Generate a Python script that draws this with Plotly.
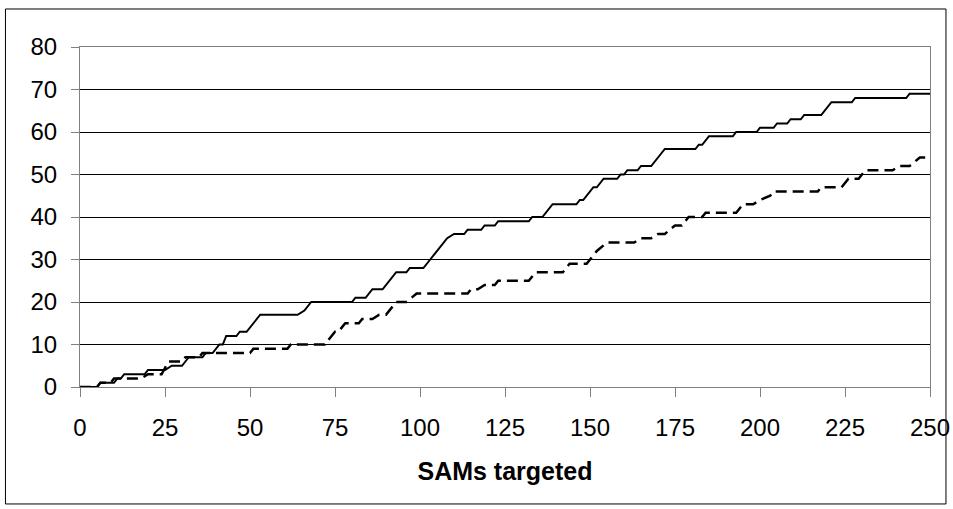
import plotly.graph_objects as go

# Solid series: corner points of the step curve (SAMs targeted, count)
solid_x = [0, 5, 6, 10, 11, 12, 13, 19, 20, 25, 27, 30, 31, 32, 36, 37, 39, 40, 41, 42,
           43, 46, 47, 49, 51, 53, 64, 66, 68, 80, 81, 84, 86, 89, 93, 96, 97, 101, 103,
           106, 108, 110, 113, 114, 118, 119, 122, 123, 132, 133, 136, 139, 146, 147, 148,
           151, 152, 154, 158, 159, 160, 161, 164, 165, 168, 171, 172, 181, 182, 183, 185,
           192, 193, 199, 200, 204, 205, 208, 209, 212, 213, 218, 221, 227, 228, 243, 244, 250]
solid_y = [0, 0, 1, 1, 2, 2, 3, 3, 4, 4, 5, 5, 6, 7, 7, 8, 8, 9, 10, 10,
           12, 12, 13, 13, 15, 17, 17, 18, 20, 20, 21, 21, 23, 23, 27, 27, 28, 28, 30,
           33, 35, 36, 36, 37, 37, 38, 38, 39, 39, 40, 40, 43, 43, 44, 44,
           47, 47, 49, 49, 50, 50, 51, 51, 52, 52, 55, 56, 56, 57, 57, 59,
           59, 60, 60, 61, 61, 62, 62, 63, 63, 64, 64, 67, 67, 68, 68, 69, 69]

# Dashed series
dash_x = [0, 5, 6, 9, 10, 18, 20, 24, 26, 30, 31, 35, 36, 50, 51, 61, 62, 72, 73, 75,
          76, 78, 82, 83, 86, 88, 90, 93, 96, 99, 114, 115, 117, 119, 122, 123, 132, 134,
          142, 144, 149, 152, 155, 163, 165, 168, 170, 172, 175, 177, 179, 183, 184, 193,
          195, 198, 200, 203, 204, 217, 218, 224, 226, 229, 231, 239, 241, 244, 247, 250]
dash_y = [0, 0, 1, 1, 2, 2, 3, 3, 6, 6, 7, 7, 8, 8, 9, 9, 10, 10, 11, 13,
          13, 15, 15, 16, 16, 17, 17, 20, 20, 22, 22, 23, 23, 24, 24, 25, 25, 27,
          27, 29, 29, 32, 34, 34, 35, 35, 36, 36, 38, 38, 40, 40, 41, 41,
          43, 43, 44, 45, 46, 46, 47, 47, 49, 49, 51, 51, 52, 52, 54, 54]

x_ticks = [0, 25, 50, 75, 100, 125, 150, 175, 200, 225, 250]
y_ticks = [0, 10, 20, 30, 40, 50, 60, 70, 80]
x_title = "SAMs targeted"

FONT = "Liberation Sans, Arial, sans-serif"

fig = go.Figure()
fig.add_trace(go.Scatter(x=solid_x, y=solid_y, mode="lines",
                         line=dict(color="black", width=2), showlegend=False))
fig.add_trace(go.Scatter(x=dash_x, y=dash_y, mode="lines",
                         line=dict(color="black", width=2.5, dash="11px,6px"),
                         showlegend=False))

fig.update_layout(
    width=953, height=509,
    margin=dict(l=80, r=23, t=47, b=122, autoexpand=False),
    paper_bgcolor="white", plot_bgcolor="white",
    font=dict(family=FONT, color="black", size=24),
    xaxis=dict(range=[0, 250], tickvals=x_ticks, ticktext=[str(v) for v in x_ticks],
               showgrid=False, zeroline=False,
               showline=True, linecolor="#808080", linewidth=1, mirror=True,
               ticks="outside", ticklen=9, tickcolor="#808080",
               tickfont=dict(size=24), ticklabelstandoff=10,
               ticklabeloverflow="allow", automargin=False,
               title=dict(text="<b>" + x_title + "</b>", font=dict(size=25), standoff=22)),
    yaxis=dict(range=[0, 80], tickvals=y_ticks, ticktext=[str(v) for v in y_ticks],
               showgrid=True, gridcolor="black", gridwidth=1, zeroline=False,
               showline=True, linecolor="#808080", linewidth=1, mirror=True,
               ticks="outside", ticklen=8, tickcolor="#808080", automargin=False,
               tickfont=dict(size=24), ticklabelstandoff=9),
)

# outer chart border
fig.add_shape(type="rect", xref="paper", yref="paper",
              x0=-0.0877, x1=1.0188, y0=-0.344, y1=1.1118,
              line=dict(color="black", width=1), fillcolor="rgba(0,0,0,0)", layer="below")

fig.write_html(
    "out.html",
    config={"displayModeBar": False},
    post_script="document.body.style.margin='0px';document.body.style.overflow='hidden';",
)
